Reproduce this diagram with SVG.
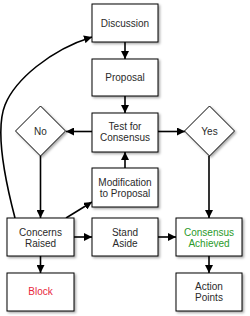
<svg xmlns="http://www.w3.org/2000/svg" width="250" height="316" viewBox="0 0 250 316">
<defs>
<filter id="sh" x="-20%" y="-20%" width="150%" height="150%">
<feDropShadow dx="1.5" dy="1.5" stdDeviation="1.2" flood-color="#000" flood-opacity="0.35"/>
</filter>
<marker id="ah" viewBox="0 0 10 10" refX="10" refY="5" markerWidth="8" markerHeight="8" markerUnits="userSpaceOnUse" orient="auto">
<path d="M0,0 L10,5 L0,10 Z" fill="#000"/>
</marker>
</defs>
<style>
.box{fill:#fff;stroke:#000;stroke-width:1;filter:url(#sh)}
.t{font-family:"Liberation Sans",Arial,sans-serif;font-size:10px;fill:#2a2a2a;text-anchor:middle}
.c{fill:none;stroke:#000;stroke-width:1.6;marker-end:url(#ah)}
</style>
<g id="connectors">
<line class="c" x1="125" y1="42" x2="125" y2="59"/>
<line class="c" x1="125" y1="96" x2="125" y2="113"/>
<line class="c" x1="92" y1="131.5" x2="66" y2="131.5"/>
<line class="c" x1="158" y1="131.5" x2="185" y2="131.5"/>
<line class="c" x1="125" y1="168" x2="125" y2="152"/>
<line class="c" x1="40.5" y1="156" x2="40.5" y2="218"/>
<line class="c" x1="209" y1="156" x2="209" y2="218"/>
<line class="c" x1="66" y1="218" x2="92" y2="202"/>
<line class="c" x1="74" y1="237" x2="92" y2="237"/>
<line class="c" x1="158" y1="237" x2="176" y2="237"/>
<line class="c" x1="40.5" y1="256" x2="40.5" y2="273"/>
<line class="c" x1="209" y1="256" x2="209" y2="273"/>
<path class="c" d="M15,218 C5,180 -5,130 5,105 C15,80 50,50 92,37"/>
</g>
<g id="discussion"><rect class="box" x="92" y="4" width="66" height="38"/><text class="t" x="125" y="26.5">Discussion</text></g>
<g id="proposal"><rect class="box" x="92" y="59" width="66" height="37"/><text class="t" x="125" y="81">Proposal</text></g>
<g id="test"><rect class="box" x="92" y="113" width="66" height="39"/><text class="t" x="125" y="130">Test for</text><text class="t" x="125" y="141">Consensus</text></g>
<g id="no"><polygon class="box" points="40.5,106 65.5,131 40.5,156 15.5,131"/><text class="t" x="40.5" y="134.5">No</text></g>
<g id="yes"><polygon class="box" points="209.5,106 234.5,131 209.5,156 184.5,131"/><text class="t" x="209.5" y="134.5">Yes</text></g>
<g id="modification"><rect class="box" x="92" y="168" width="66" height="39"/><text class="t" x="125" y="185.5">Modification</text><text class="t" x="125" y="196.5">to Proposal</text></g>
<g id="concerns"><rect class="box" x="7" y="218" width="67" height="38"/><text class="t" x="40.5" y="235.5">Concerns</text><text class="t" x="40.5" y="246.5">Raised</text></g>
<g id="standaside"><rect class="box" x="92" y="218" width="66" height="38"/><text class="t" x="125" y="235.5">Stand</text><text class="t" x="125" y="246.5">Aside</text></g>
<g id="achieved"><rect class="box" x="176" y="218" width="66" height="38"/><text class="t" x="209" y="235.5" style="fill:#2a9a2a">Consensus</text><text class="t" x="209" y="246.5" style="fill:#2a9a2a">Achieved</text></g>
<g id="block"><rect class="box" x="7" y="273" width="67" height="38"/><text class="t" x="40.5" y="295" style="fill:#e8283c">Block</text></g>
<g id="actionpoints"><rect class="box" x="176" y="273" width="66" height="38"/><text class="t" x="209" y="289.5">Action</text><text class="t" x="209" y="300.5">Points</text></g>
</svg>
